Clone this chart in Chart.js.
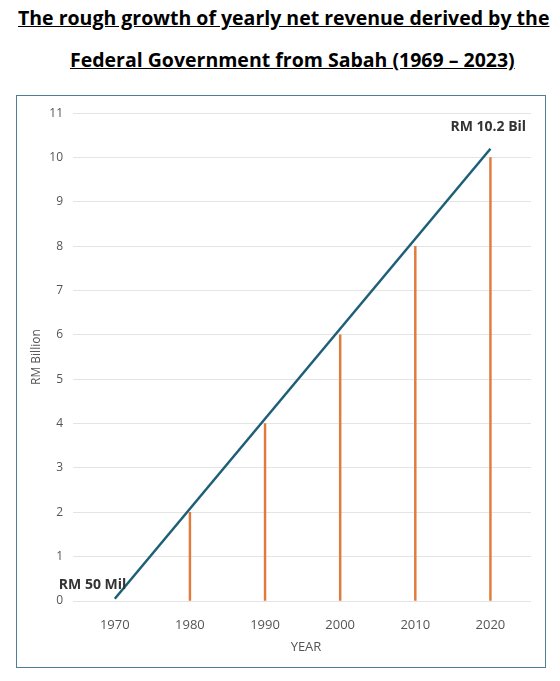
<!DOCTYPE html>
<html><head><meta charset="utf-8">
<script src="https://cdn.jsdelivr.net/npm/chart.js@4"></script>
<style>
body{margin:0;background:#fff;width:560px;height:681px;position:relative;font-family:"Open Sans",sans-serif}
.t{position:absolute;font-weight:bold;font-size:19.5px;text-decoration:underline;color:#000;white-space:nowrap}
#box{position:absolute;left:16px;top:95px;width:528px;height:571px;border:1.5px solid #4f7f95}
</style></head><body>
<div class="t" style="left:18px;top:4px">The rough growth of yearly net revenue derived by the</div>
<div class="t" style="left:70px;top:46px">Federal Government from Sabah (1969 – 2023)</div>
<div id="box"><canvas id="c" width="528" height="571"></canvas></div>
<script>
const lineYears=[1970,2020];
const lineValues=[0.05,10.2];
const markerYears=[1980,1990,2000,2010,2020];
const markerValues=[2,4,6,8,10];
const yearTicks=[1970,1980,1990,2000,2010,2020];
const labels=[{x:1970,y:0.05,text:"RM 50 Mil",dx:-56,dy:-14,align:"left"},{x:2020,y:10.2,text:"RM 10.2 Bil",dx:-40,dy:-22,align:"left"}];
const txt={id:'txt',afterDatasetsDraw(ch){const c=ch.ctx,xs=ch.scales.x,ys=ch.scales.y;c.save();c.font='bold 14px "Open Sans"';c.fillStyle='#333';c.textBaseline='middle';
labels.forEach(l=>{c.textAlign=l.align;c.fillText(l.text,xs.getPixelForValue(l.x)+l.dx,ys.getPixelForValue(l.y)+l.dy);});c.restore();}};
new Chart(document.getElementById('c'),{
data:{datasets:[
{type:'line',data:lineYears.map((x,i)=>({x,y:lineValues[i]})),borderColor:'#1e5f78',borderWidth:2.5,pointRadius:0,order:0},
{type:'bar',data:markerYears.map((x,i)=>({x,y:markerValues[i]})),backgroundColor:'#e07b3c',barThickness:1.8,order:1}
]},
options:{responsive:false,animation:false,layout:{padding:{left:8,top:14,right:14,bottom:8}},
plugins:{legend:{display:false},tooltip:{enabled:false}},
scales:{
x:{type:'linear',offset:false,min:1965.5,max:2025.4,afterBuildTicks(a){a.ticks=yearTicks.map(v=>({value:v}));},
grid:{display:false},border:{display:false},ticks:{color:'#555',font:{size:13,family:'Open Sans'},padding:8,callback:v=>String(v)},
title:{display:true,text:'YEAR',color:'#555',font:{size:13,family:'Open Sans'}},afterFit(a){a.height=58;}},
y:{min:0,max:11,ticks:{stepSize:1,color:'#555',font:{size:12,family:'Open Sans'},padding:10},grid:{color:'#e4e4e4'},border:{display:false},
title:{display:true,text:'RM Billion',color:'#555',font:{size:12,family:'Open Sans'}},afterFit(a){a.width=56;}}
}},plugins:[txt]});
</script></body></html>
